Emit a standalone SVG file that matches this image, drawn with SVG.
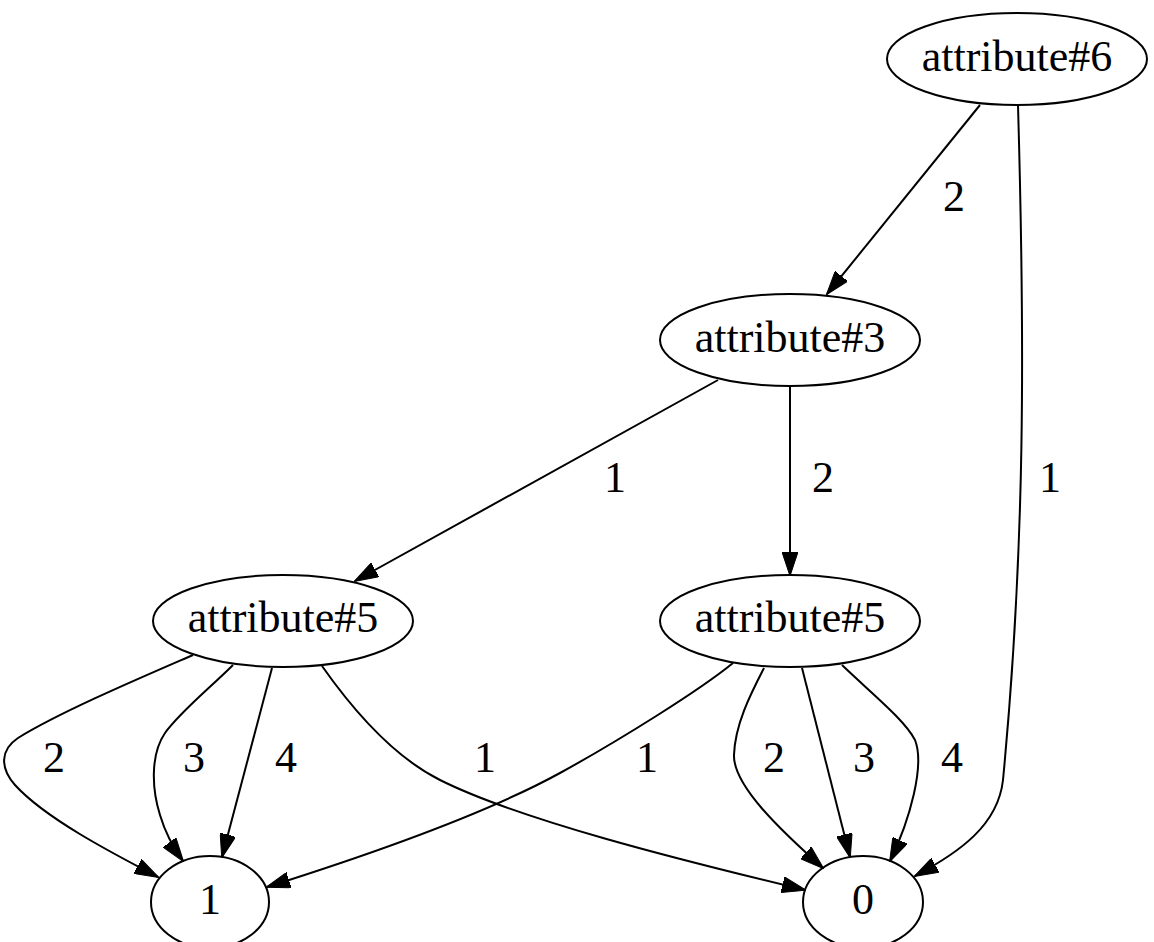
<svg xmlns="http://www.w3.org/2000/svg" width="1154" height="942" viewBox="0 0 1154 942">
<style>
.node ellipse{fill:none;stroke:#000;stroke-width:2}
text{font-family:"Liberation Serif","Times New Roman",serif;font-size:44px;fill:#000;text-anchor:middle}
.edges path{fill:none;stroke:#000;stroke-width:2;marker-end:url(#arr)}
</style>
<defs>
<marker id="arr" viewBox="0 0 24 16" refX="23" refY="8" markerWidth="24" markerHeight="16" markerUnits="userSpaceOnUse" orient="auto">
<path d="M0,0 L24,8 L0,16 z" fill="#000" stroke="#000" stroke-width="1"/>
</marker>
</defs>
<rect width="1154" height="942" fill="#fff"/>
<g class="edges" id="edges">
<path d="M980,105 L827,294"/>
<path d="M1018,105 C1025,350 1025,550 1003,780 C998,825 960,852 915,876"/>
<path d="M718,380 L355,581"/>
<path d="M790,386 L790,575"/>
<path d="M193,655 C140,678 60,712 18,738 C0,750 0,768 15,785 C45,818 110,852 158,877"/>
<path d="M233,665 C210,688 180,712 165,733 C150,755 152,790 160,815 C165,832 175,850 183,861"/>
<path d="M272,668 L222,857"/>
<path d="M322,666 C360,720 400,760 440,780 C520,820 680,860 805,890"/>
<path d="M733,663 C700,690 620,740 560,773 C500,806 400,845 267,887"/>
<path d="M764,668 C750,695 735,725 734,755 C733,785 780,830 823,868"/>
<path d="M802,668 L850,857"/>
<path d="M842,665 C870,692 905,720 915,740 C925,765 910,820 890,861"/>
</g>
<g id="edge-labels">
<text x="954" y="211">2</text>
<text x="1050" y="492">1</text>
<text x="615" y="492">1</text>
<text x="823" y="492">2</text>
<text x="54" y="772">2</text>
<text x="194" y="772">3</text>
<text x="286" y="772">4</text>
<text x="485" y="772">1</text>
<text x="647" y="772">1</text>
<text x="774" y="772">2</text>
<text x="864" y="772">3</text>
<text x="952" y="772">4</text>
</g>
<g class="node" id="attr6"><ellipse cx="1017" cy="59" rx="130" ry="46"/><text x="1017" y="71">attribute#6</text></g>
<g class="node" id="attr3"><ellipse cx="790" cy="340" rx="130" ry="46"/><text x="790" y="352">attribute#3</text></g>
<g class="node" id="attr5a"><ellipse cx="283" cy="621" rx="130" ry="46"/><text x="283" y="632">attribute#5</text></g>
<g class="node" id="attr5b"><ellipse cx="790" cy="621" rx="130" ry="46"/><text x="790" y="632">attribute#5</text></g>
<g class="node" id="n1"><ellipse cx="210" cy="902" rx="59" ry="46"/><text x="210" y="914">1</text></g>
<g class="node" id="n0"><ellipse cx="863" cy="902" rx="60" ry="46"/><text x="863" y="914">0</text></g>
</svg>
